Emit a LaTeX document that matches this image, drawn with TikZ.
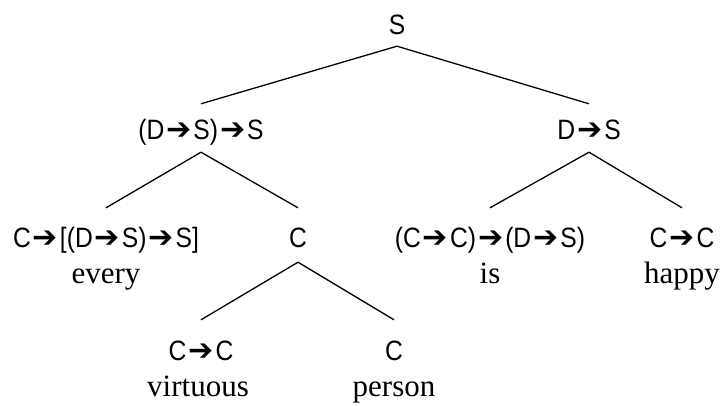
\documentclass[tikz,border=0pt]{standalone}
\usepackage{fontspec}
\setmainfont{Liberation Serif}
\newfontfamily\labfont[FakeStretch=0.88]{Liberation Sans}
\newfontfamily\arrfont{DejaVu Sans}
\newcommand{\ar}{\hspace{2pt}{\arrfont\fontsize{30}{30}\selectfont ➔}\hspace{2pt}}
\tikzset{
  lab/.style={font=\labfont\fontsize{28}{28}\selectfont, inner sep=0pt, anchor=base, text height=20pt, text depth=0pt},
  word/.style={font=\fontsize{31}{31}\selectfont, inner sep=0pt, anchor=base},
  edge/.style={line width=1.3pt}
}
\begin{document}
\begin{tikzpicture}[x=1pt,y=-1pt]
\useasboundingbox (0,0) rectangle (727,406);
% row 0
\node[lab] (s) at (397,35) {S};
% row 1
\node[lab] (l) at (201,140) {(D\ar S)\ar S};
\node[lab] (r) at (589,140) {D\ar S};
% row 2
\node[lab] (ll) at (106,247) {C\ar[(D\ar S)\ar S]};
\node[lab] (lr) at (298,247) {C};
\node[lab] (rl) at (490,247) {(C\ar C)\ar(D\ar S)};
\node[lab] (rr) at (682,247) {C\ar C};
\node[word] (w1) at (106,283) {every};
\node[word] (w2) at (490,283) {is};
\node[word] (w3) at (682,283) {happy};
% row 3
\node[lab] (lrl) at (201,360) {C\ar C};
\node[lab] (lrr) at (394,360) {C};
\node[word] (w4) at (198,396) {virtuous};
\node[word] (w5) at (394,396) {person};
% edges
\draw[edge] ([yshift=-11pt]s.south) -- ([yshift=16pt]l.north);
\draw[edge] ([yshift=-11pt]s.south) -- ([yshift=16pt]r.north);
\draw[edge] ([yshift=-12pt]l.south) -- ([yshift=19pt]ll.north);
\draw[edge] ([yshift=-12pt]l.south) -- ([yshift=19pt]lr.north);
\draw[edge] ([yshift=-12pt]r.south) -- ([yshift=19pt]rl.north);
\draw[edge] ([yshift=-12pt]r.south) -- ([yshift=19pt]rr.north);
\draw[edge] ([yshift=-15pt]lr.south) -- ([yshift=20pt]lrl.north);
\draw[edge] ([yshift=-15pt]lr.south) -- ([yshift=20pt]lrr.north);
\end{tikzpicture}
\end{document}
